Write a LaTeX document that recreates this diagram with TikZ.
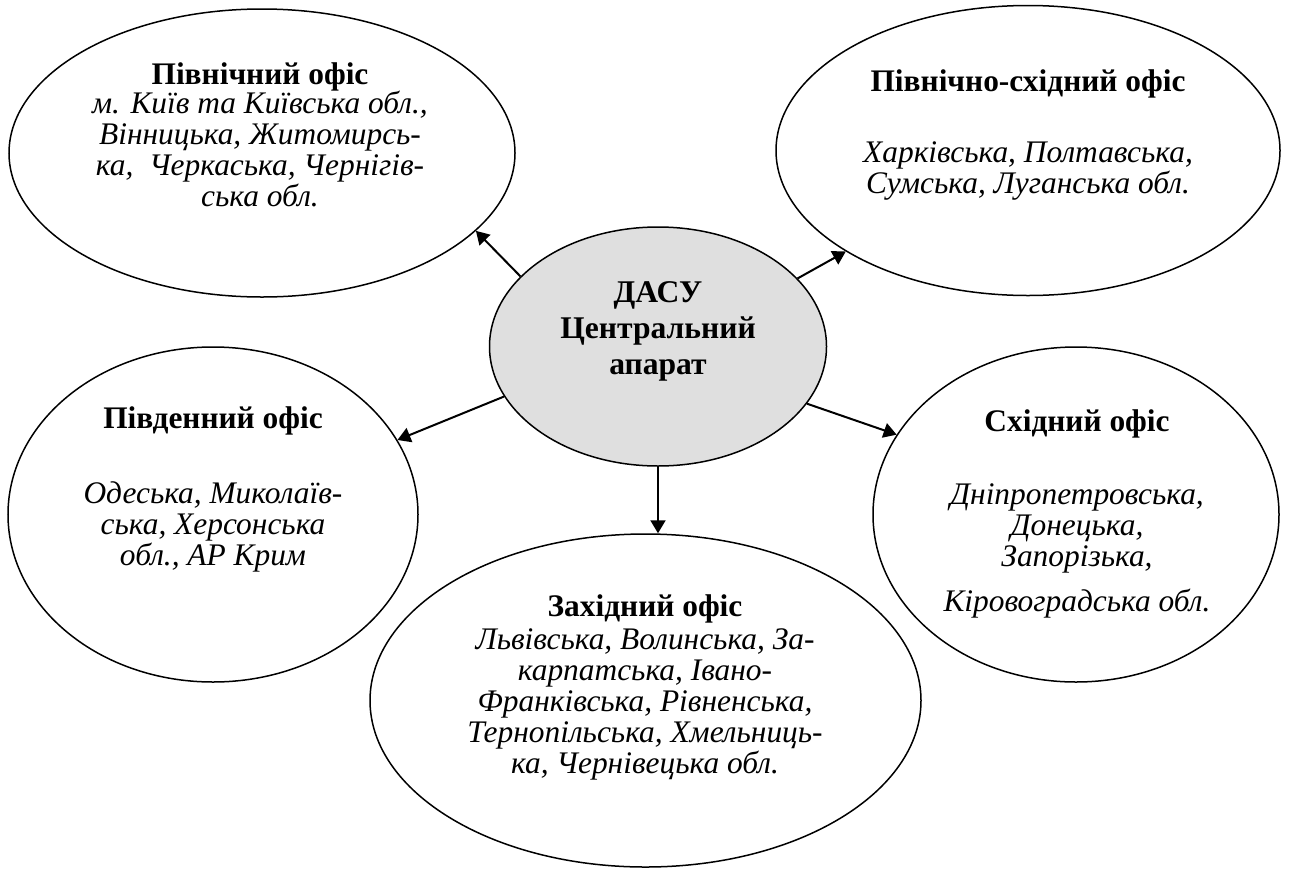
\documentclass[tikz,border=0pt]{standalone}
\usepackage{fontspec}
\setmainfont{Liberation Serif}
\usetikzlibrary{shapes.geometric,arrows.meta}
\newcommand{\officetitle}[1]{{\upshape\bfseries #1}}
\begin{document}
\begin{tikzpicture}[x=0.5pt,y=-0.5pt]
        \useasboundingbox (0,0) rectangle (1290,868);
        \begin{scope}[every node/.style={ellipse,draw,line width=0.75pt,inner sep=0pt}]
            \node[minimum width=253pt,minimum height=144pt] (north) at (262,153) {};
            \node[minimum width=252pt,minimum height=145pt] (northeast) at (1028,150.5) {};
            \node[minimum width=205pt,minimum height=167.5pt] (south) at (213,514.5) {};
            \node[minimum width=203pt,minimum height=167.5pt] (east) at (1076,514.5) {};
            \node[minimum width=275.5pt,minimum height=166.5pt] (west) at (645.5,700.5) {};
            \node[minimum width=168.5pt,minimum height=119.5pt,fill=gray!25] (centre) at (658,346.5) {};
        \end{scope}
        \begin{scope}[every node/.style={align=center,font=\fontsize{15.7}{15.5}\selectfont\itshape}]
            \node (northtxt) at (260,135) {\officetitle{Північний офіс}\\[-1pt]
                м. Київ та Київська обл.,\\Вінницька, Житомирсь-\\ка,~ Черкаська, Чернігів-\\ська обл.};
            \node (northeasttxt) at (1028,134.5) {\officetitle{Північно-східний офіс}\\[20pt]
                Харківська, Полтавська,\\Сумська, Луганська обл.};
            \node (southtxt) at (213,489) {\officetitle{Південний офіс}\\[22pt]
                Одеська, Миколаїв-\\ська, Херсонська\\обл., АР Крим};
            \node (easttxt) at (1077,514) {\officetitle{Східний офіс}\\[21pt]
                Дніпропетровська,\\Донецька,\\Запорізька,\\[7pt]Кіровоградська обл.};
            \node (westtxt) at (645,687) {\officetitle{Західний офіс}\\[1pt]
                Львівська, Волинська, За-\\карпатська, Івано-\\Франківська, Рівненська,\\
                Тернопільська, Хмельниць-\\ка, Чернівецька обл.};
            \node[font=\fontsize{15.8}{18}\selectfont\bfseries] (centretxt) at (658,331) {ДАСУ\\Центральний\\апарат};
        \end{scope}
        \begin{scope}[every edge/.style={draw,line width=1pt,-{Triangle[length=6.5pt,width=7.5pt]}}]
            \path
                (centre.153.8) edge (north.340.3)
                (centre.26.7) edge (northeast.209.2)
                (centre.198.8) edge (south.22.5)
                (centre.-21.9) edge (east.156.4)
                (centre.south) edge (centre.south |- west.north);
        \end{scope}
    \end{tikzpicture}
\end{document}
